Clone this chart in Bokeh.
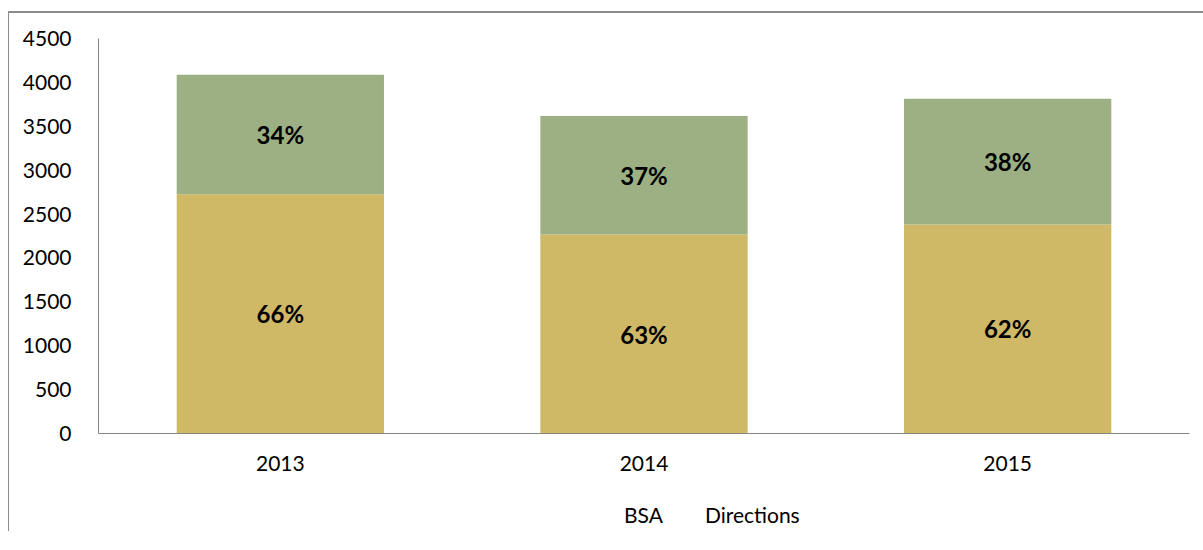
from bokeh.plotting import figure
from bokeh.models import ColumnDataSource, Legend, LegendItem, FactorRange, Range1d
from bokeh.layouts import column
from bokeh.core.properties import value
from bokeh.embed import file_html
from bokeh.resources import INLINE

years = ["2013", "2014", "2015"]
bsa = [2725, 2267, 2382]
directions = [1363, 1351, 1431]
bsa_pct = ["66%", "63%", "62%"]
dir_pct = ["34%", "37%", "38%"]
y_ticks = [0, 500, 1000, 1500, 2000, 2500, 3000, 3500, 4000, 4500]
series_names = ["BSA", "Directions"]

BSA_COLOR = "#CFB966"
DIR_COLOR = "#9DB084"
FONT = "Lato"

src = ColumnDataSource(dict(
    year=years,
    bsa=bsa,
    directions=directions,
    total=[b + d for b, d in zip(bsa, directions)],
    bsa_mid=[b / 2 for b in bsa],
    dir_mid=[b + d / 2 for b, d in zip(bsa, directions)],
    bsa_pct=bsa_pct,
    dir_pct=dir_pct,
))

p = figure(x_range=FactorRange(*years, range_padding=0), y_range=(0, 4500),
           frame_width=1090, frame_height=393,
           output_backend="svg", toolbar_location=None,
           min_border_left=89, min_border_right=15, min_border_top=25, min_border_bottom=0)
p.styles = {"border-top": "2px solid #8c8c8c", "border-left": "1px solid #8c8c8c"}

p.vbar(x="year", bottom=0, top="bsa", width=0.57, source=src,
       fill_color=BSA_COLOR, line_color=None)
p.vbar(x="year", bottom="bsa", top="total", width=0.57, source=src,
       fill_color=DIR_COLOR, line_color=None)

for ycol, tcol in (("bsa_mid", "bsa_pct"), ("dir_mid", "dir_pct")):
    p.text(x="year", y=ycol, text=tcol, source=src, text_align="center",
           text_baseline="middle", text_font=value(FONT), text_font_style="bold",
           text_font_size="24px", text_color="#000000")

p.outline_line_color = None
p.xgrid.grid_line_color = None
p.ygrid.grid_line_color = None
p.background_fill_color = "white"

p.yaxis.ticker = y_ticks
p.yaxis.major_tick_line_color = None
p.yaxis.minor_tick_line_color = None
p.yaxis.axis_line_color = "#868686"
p.yaxis.major_label_text_font = FONT
p.yaxis.major_label_text_font_size = "21px"
p.yaxis.major_label_text_color = "#000000"
p.yaxis.major_label_standoff = 21

p.xaxis.major_tick_line_color = None
p.xaxis.minor_tick_line_color = None
p.xaxis.axis_line_color = "#868686"
p.xaxis.major_label_text_font = FONT
p.xaxis.major_label_text_font_size = "21px"
p.xaxis.major_label_text_color = "#000000"
p.xaxis.major_label_standoff = 16

# legend strip below the chart
p2 = figure(width=1194, height=60, x_range=Range1d(0, 1), y_range=Range1d(0, 1),
            output_backend="svg", toolbar_location=None,
            x_axis_location=None, y_axis_location=None, min_border=0)
p2.styles = {"border-left": "1px solid #8c8c8c"}
p2.outline_line_color = None
p2.grid.visible = False
empty = ColumnDataSource(dict(x=[], top=[]))
lr_bsa = p2.vbar(x="x", top="top", width=0.1, source=empty,
                 fill_color=BSA_COLOR, line_color=None)
lr_dir = p2.vbar(x="x", top="top", width=0.1, source=empty,
                 fill_color=DIR_COLOR, line_color=None)

legend = Legend(items=[LegendItem(label=series_names[0], renderers=[lr_bsa]),
                       LegendItem(label=series_names[1], renderers=[lr_dir])],
                orientation="horizontal", location=(504, 4))
legend.padding = 0
legend.margin = 0
legend.spacing = 20
legend.glyph_width = 14
legend.glyph_height = 14
legend.label_standoff = 8
legend.label_text_font = FONT
legend.label_text_font_size = "21px"
legend.label_text_color = "#000000"
legend.border_line_color = None
legend.background_fill_alpha = 0
p2.add_layout(legend, "center")

layout = column(p, p2, spacing=0)
layout.margin = (11, 0, 0, 8)

open("out.html", "w").write(file_html(layout, INLINE))
